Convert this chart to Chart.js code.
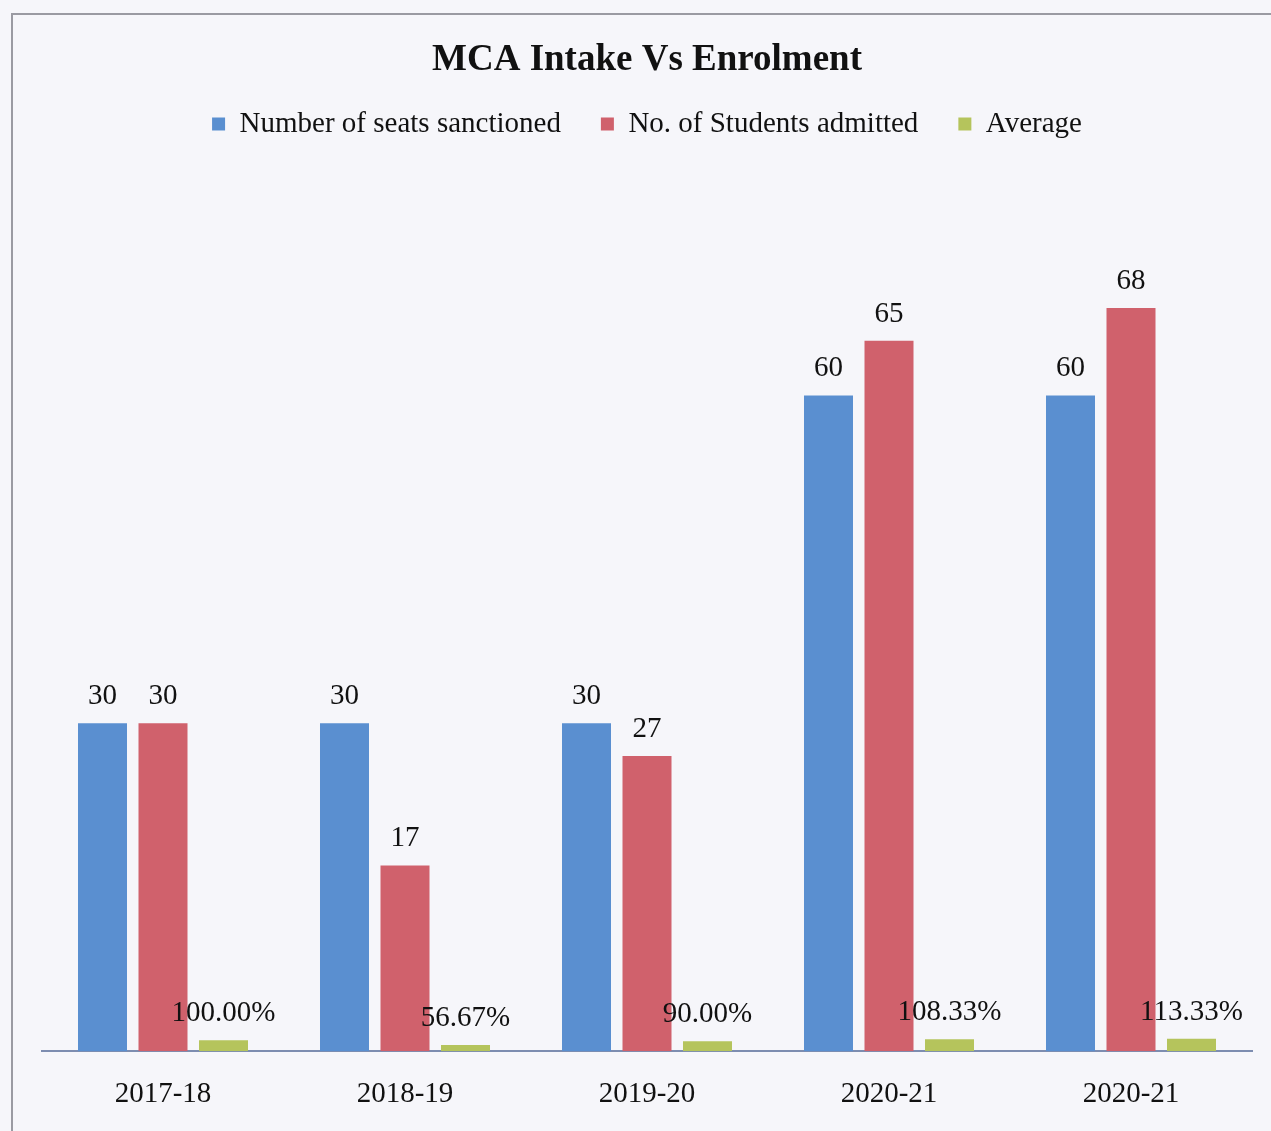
<!DOCTYPE html>
<html>
<head>
<meta charset="utf-8">
<script src="https://cdn.jsdelivr.net/npm/chart.js@4/dist/chart.umd.min.js"></script>
<style>
  html, body { margin: 0; padding: 0; background: #f6f6fa; }
  #wrap { position: relative; width: 1271px; height: 1131px; }
  #frame { position: absolute; left: 11px; top: 13px; right: -5px; bottom: -5px;
           border-left: 2px solid #9a9aa2; border-top: 2px solid #9a9aa2; }
  canvas { position: absolute; left: 0; top: 0; }
</style>
</head>
<body>
<div id="wrap">
  <div id="frame"></div>
  <canvas id="chart" width="1271" height="1131"></canvas>
</div>
<script>
// Chart data
const years = ['2017-18', '2018-19', '2019-20', '2020-21', '2020-21'];
const seatsSanctioned = [30, 30, 30, 60, 60];
const studentsAdmitted = [30, 17, 27, 65, 68];
const average = [1.0, 0.5667, 0.9, 1.0833, 1.1333];
const averageLabels = ['100.00%', '56.67%', '90.00%', '108.33%', '113.33%'];

const serif = "'Liberation Serif', 'Times New Roman', serif";

// draws the value above every bar (no datalabels plugin available offline)
const valueLabels = {
    id: 'valueLabels',
    afterDatasetsDraw(chart) {
        const ctx = chart.ctx;
        ctx.save();
        ctx.font = '29px ' + serif;
        ctx.fillStyle = '#111';
        ctx.textAlign = 'center';
        ctx.textBaseline = 'alphabetic';
        chart.data.datasets.forEach(function (ds, i) {
            const meta = chart.getDatasetMeta(i);
            meta.data.forEach(function (bar, j) {
                const text = ds.valueText ? ds.valueText[j] : String(ds.data[j]);
                ctx.fillText(text, bar.x, bar.y - 19);
            });
        });
        ctx.restore();
    }
};

const ctx = document.getElementById('chart').getContext('2d');
new Chart(ctx, {
    type: 'bar',
    data: {
        labels: years,
        datasets: [{
            label: 'Number of seats sanctioned',
            data: seatsSanctioned,
            backgroundColor: '#5a8fd0',
            borderWidth: 0
        }, {
            label: 'No. of Students admitted',
            data: studentsAdmitted,
            backgroundColor: '#d0616c',
            borderWidth: 0
        }, {
            label: 'Average',
            data: average,
            valueText: averageLabels,
            backgroundColor: '#b5c45c',
            borderWidth: 0
        }]
    },
    options: {
        responsive: false,
        animation: false,
        categoryPercentage: 0.75,
        barPercentage: 0.81,
        layout: {
            padding: { left: 42, right: 19, top: 0, bottom: -7 }
        },
        plugins: {
            title: {
                display: true,
                text: 'MCA Intake Vs Enrolment',
                color: '#111',
                font: { family: serif, size: 37, weight: 'bold' },
                padding: { top: 38, bottom: -13 }
            },
            legend: {
                position: 'top',
                labels: {
                    color: '#111',
                    font: { family: serif, size: 29 },
                    boxWidth: 13,
                    boxHeight: 13,
                    padding: 40
                }
            },
            tooltip: { enabled: false }
        },
        scales: {
            x: {
                grid: { display: false, drawTicks: false },
                border: { display: true, color: '#7d8db0', width: 2 },
                ticks: {
                    color: '#111',
                    font: { family: serif, size: 29 },
                    padding: 26
                }
            },
            y: {
                display: false,
                min: 0,
                max: 82.6
            }
        }
    },
    plugins: [valueLabels]
});
</script>
</body>
</html>
